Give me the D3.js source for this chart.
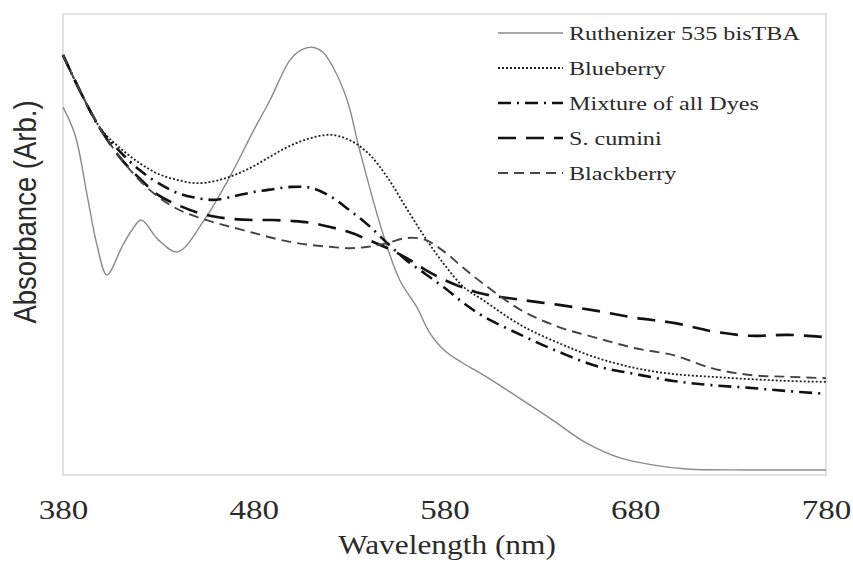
<!DOCTYPE html>
<html>
<head>
<meta charset="utf-8">
<script src="https://cdn.jsdelivr.net/npm/d3@7"></script>
<style>
  body { margin: 0; background: white; }
  text { font-family: "Liberation Serif", "Times New Roman", serif; fill: #2b2b2b; }
</style>
</head>
<body>
<div id="viz-container"></div>
<script>
let svgWidth = 853;
let svgHeight = 563;

// wavelengths (nm)
let wlDyes = [380,390,400,410,420,430,440,450,460,470,480,490,500,510,520,530,540,550,560,570,580,590,600,620,640,660,680,700,720,740,760,780];
let wlRuth = [380,386.3,393.1,397.8,403,410.9,416.1,421,430,440,454,468.5,480,488.5,499,505,510.5,516,521.5,529,535.5,547.6,556.5,565.5,572,580,589.5,602,624.7,636.7,654.5,672,689,707,740,780];

// absorbance, arbitrary units
let ruthenizer = [0.798,0.738,0.597,0.499,0.434,0.495,0.531,0.553,0.510,0.484,0.553,0.655,0.748,0.813,0.900,0.922,0.928,0.918,0.885,0.813,0.705,0.525,0.423,0.364,0.310,0.270,0.243,0.213,0.152,0.119,0.069,0.037,0.022,0.013,0.011,0.011];
let blueberry = [0.911,0.824,0.750,0.709,0.677,0.653,0.640,0.633,0.638,0.651,0.670,0.694,0.716,0.731,0.738,0.727,0.698,0.646,0.579,0.514,0.456,0.408,0.380,0.325,0.286,0.254,0.232,0.219,0.213,0.208,0.204,0.202];
let mixture = [0.911,0.824,0.748,0.701,0.662,0.633,0.612,0.601,0.597,0.605,0.614,0.620,0.625,0.623,0.605,0.575,0.542,0.503,0.466,0.436,0.406,0.373,0.345,0.304,0.267,0.236,0.219,0.204,0.195,0.189,0.182,0.176];
let cumini = [0.911,0.824,0.748,0.688,0.644,0.607,0.586,0.570,0.560,0.555,0.553,0.553,0.551,0.547,0.538,0.527,0.510,0.492,0.471,0.445,0.423,0.406,0.393,0.380,0.369,0.356,0.341,0.330,0.312,0.302,0.304,0.299];
let blackberry = [0.911,0.824,0.748,0.688,0.640,0.603,0.577,0.560,0.547,0.536,0.525,0.514,0.505,0.499,0.495,0.492,0.495,0.503,0.514,0.510,0.484,0.449,0.416,0.358,0.321,0.297,0.275,0.260,0.232,0.217,0.213,0.210];

let seriesNames = ["Ruthenizer 535 bisTBA","Blueberry","Mixture of all Dyes","S. cumini","Blackberry"];
let xTicks = [380,480,580,680,780];

let series = [
  {name: seriesNames[0], wl: wlRuth, vals: ruthenizer, color: "#8a8a8a", width: 1.4, dash: null},
  {name: seriesNames[1], wl: wlDyes, vals: blueberry, color: "#222", width: 1.8, dash: "2,2"},
  {name: seriesNames[2], wl: wlDyes, vals: mixture, color: "#111", width: 2.6, dash: "13,6,2,6"},
  {name: seriesNames[3], wl: wlDyes, vals: cumini, color: "#111", width: 2.6, dash: "18,10"},
  {name: seriesNames[4], wl: wlDyes, vals: blackberry, color: "#444", width: 1.9, dash: "10,6"}
];

let margin = {left: 63, right: 27, top: 14, bottom: 88};
let plotW = svgWidth - margin.left - margin.right;
let plotH = svgHeight - margin.top - margin.bottom;

let viz = d3.select("#viz-container")
  .append("svg")
    .attr("width", svgWidth)
    .attr("height", svgHeight)
    .style("background-color", "white");

let x = d3.scaleLinear().domain([380, 780]).range([margin.left, margin.left + plotW]);
let y = d3.scaleLinear().domain([0, 1]).range([margin.top + plotH, margin.top]);

// frame
viz.append("rect")
  .attr("x", margin.left)
  .attr("y", margin.top)
  .attr("width", plotW)
  .attr("height", plotH)
  .attr("fill", "none")
  .attr("stroke", "#e2e2e2")
  .attr("stroke-width", 2);

// x axis (labels only, the picture is a bit stretched sideways)
let xAxis = viz.append("g")
  .attr("transform", "translate(0," + (margin.top + plotH) + ")")
  .call(d3.axisBottom(x).tickValues(xTicks).tickSize(0).tickPadding(0).tickFormat(d3.format("d")));
xAxis.select(".domain").remove();
xAxis.selectAll(".tick text")
  .attr("y", 0)
  .attr("dy", 0)
  .attr("transform", "translate(0,44) scale(1.18,1)")
  .style("font-family", "Liberation Serif, serif")
  .style("font-size", "28px")
  .attr("fill", "#2b2b2b");

let line = d3.line()
  .x(d => x(d[0]))
  .y(d => y(d[1]))
  .curve(d3.curveCatmullRom.alpha(0.5));

series.forEach(function(s) {
  let pts = s.wl.map((w, i) => [w, s.vals[i]]);
  viz.append("path")
    .datum(pts)
    .attr("d", line)
    .attr("fill", "none")
    .attr("stroke", s.color)
    .attr("stroke-width", s.width)
    .attr("stroke-dasharray", s.dash);
});

// legend
let legend = viz.append("g").attr("transform", "translate(498,33)");
series.forEach(function(s, i) {
  let row = legend.append("g").attr("transform", "translate(0," + (i * 35) + ")");
  row.append("line")
    .attr("x1", 0).attr("x2", 65)
    .attr("y1", 0).attr("y2", 0)
    .attr("stroke", s.color)
    .attr("stroke-width", s.width)
    .attr("stroke-dasharray", s.dash);
  row.append("text")
    .attr("transform", "translate(71,7) scale(1.24,1)")
    .style("font-size", "19.5px")
    .text(s.name);
});

// axis titles
viz.append("text")
  .attr("transform", "translate(447,554) scale(1.12,1)")
  .attr("text-anchor", "middle")
  .style("font-size", "28px")
  .text("Wavelength  (nm)");

viz.append("text")
  .attr("transform", "translate(36,212) scale(1.12,1) rotate(-90)")
  .attr("text-anchor", "middle")
  .style("font-family", "Liberation Sans, Arial, sans-serif")
  .style("font-size", "27.5px")
  .attr("fill", "#3a3a3a")
  .text("Absorbance  (Arb.)");
</script>
</body>
</html>
